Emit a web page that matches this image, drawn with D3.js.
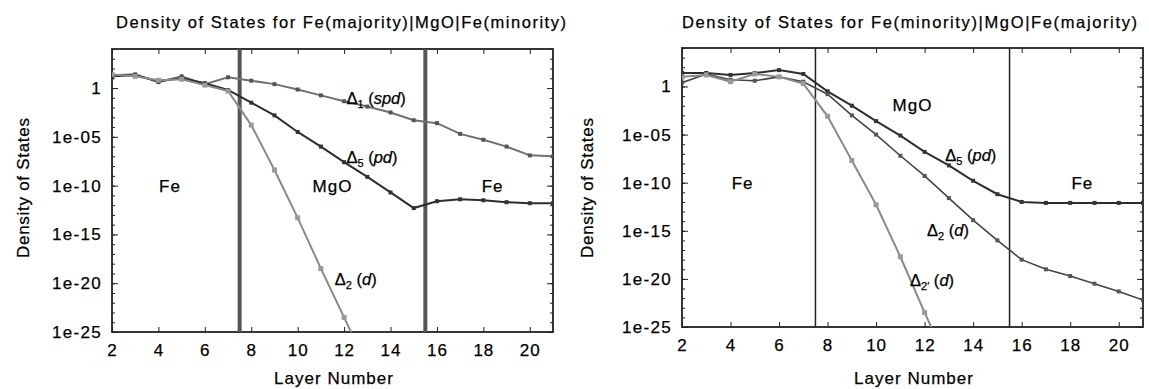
<!DOCTYPE html>
<html>
<head>
<meta charset="utf-8">
<script src="https://cdn.jsdelivr.net/npm/d3@7"></script>
<style>
  body { margin: 0; background: #fff; }
  svg text { font-family: "Liberation Sans", Arial, sans-serif; fill: #000; stroke: #000; stroke-width: 0.25px; }
</style>
</head>
<body>
<svg id="chart" width="1149" height="389"></svg>
<script>
// layer numbers
const layers = [2, 3, 4, 5, 6, 7, 8, 9, 10, 11, 12, 13, 14, 15, 16, 17, 18, 19, 20, 21];
const layersShort = [2, 3, 4, 5, 6, 7, 8, 9, 10, 11, 12, 13];
const xTicks = [2, 4, 6, 8, 10, 12, 14, 16, 18, 20];
const yTicks = [1, 1e-5, 1e-10, 1e-15, 1e-20, 1e-25];
const yTickLabels = ["1", "1e-05", "1e-10", "1e-15", "1e-20", "1e-25"];
const interfaces = [7.5, 15.5];

// log10 of density of states
const leftDelta1 = [1.3, 1.4, 0.6, 1.2, 0.4, 1.1, 0.75, 0.4, -0.15, -0.75, -1.35, -1.9, -2.5, -3.3, -3.6, -4.7, -5.3, -6.0, -6.9, -7.0];
const leftDelta5 = [1.2, 1.3, 0.7, 1.0, 0.5, -0.2, -1.5, -2.8, -4.5, -6.0, -7.6, -9.1, -10.7, -12.3, -11.6, -11.4, -11.5, -11.7, -11.8, -11.8];
const leftDelta2 = [1.4, 1.2, 0.8, 0.9, 0.3, -0.3, -3.8, -8.4, -13.3, -18.5, -23.5, -28.5];

const rightDelta5 = [1.4, 1.4, 1.2, 1.4, 1.7, 1.3, -0.5, -2.0, -3.6, -5.1, -6.8, -8.2, -9.8, -11.2, -12.0, -12.1, -12.1, -12.1, -12.1, -12.1];
const rightDelta2 = [0.4, 1.3, 0.7, 0.6, 1.0, 0.5, -0.8, -3.0, -5.0, -7.2, -9.3, -11.6, -13.9, -16.0, -18.0, -19.0, -19.7, -20.5, -21.3, -22.2];
const rightDelta2p = [1.0, 1.2, 0.5, 1.3, 1.0, 0.3, -3.1, -7.7, -12.3, -17.7, -23.5, -29.0];

const svg = d3.select("#chart");

const drawPanel = (cfg) => {
    const x = d3.scaleLinear().domain([2, 21]).range([cfg.x0, cfg.x1]);
    const y = d3.scaleLog().domain([1e-25, 1e4]).range([cfg.y1, cfg.y0]);
    const g = svg.append("g");

    g.append("clipPath").attr("id", cfg.id + "clip")
        .append("rect")
        .attr("x", cfg.x0).attr("y", cfg.y0)
        .attr("width", cfg.x1 - cfg.x0).attr("height", cfg.y1 - cfg.y0);

    // title
    g.append("text")
        .attr("x", cfg.titleX).attr("y", 28)
        .attr("font-size", 16.5)
        .attr("textLength", cfg.titleW).attr("lengthAdjust", "spacing")
        .text(cfg.title);

    // minor ticks every decade, both sides
    const decades = d3.range(-25, 5).map(e => Math.pow(10, e));
    g.append("g").attr("transform", `translate(${cfg.x0},0)`)
        .call(d3.axisLeft(y).tickValues(decades).tickSize(-3).tickFormat(""))
        .call(a => a.select(".domain").remove());
    g.append("g").attr("transform", `translate(${cfg.x1},0)`)
        .call(d3.axisRight(y).tickValues(decades).tickSize(-3).tickFormat(""))
        .call(a => a.select(".domain").remove());
    g.append("g").attr("transform", `translate(${cfg.x1},0)`)
        .call(d3.axisRight(y).tickValues(yTicks).tickSize(-6).tickFormat(""))
        .call(a => a.select(".domain").remove());

    // y axis with labels
    const yAx = g.append("g").attr("transform", `translate(${cfg.x0},0)`)
        .call(d3.axisLeft(y).tickValues(yTicks).tickSize(-6).tickPadding(10)
            .tickFormat((d, i) => yTickLabels[i]));
    yAx.select(".domain").remove();
    yAx.selectAll("text").attr("font-size", 17).attr("letter-spacing", 1.3).attr("fill", "#000");

    // x axis
    const xAx = g.append("g").attr("transform", `translate(0,${cfg.y1})`)
        .call(d3.axisBottom(x).tickValues(xTicks).tickSize(-5).tickPadding(12));
    xAx.select(".domain").remove();
    xAx.selectAll("text").attr("font-size", 17).attr("letter-spacing", 1).attr("fill", "#000");
    g.append("g").attr("transform", `translate(0,${cfg.y0})`)
        .call(d3.axisTop(x).tickValues(xTicks).tickSize(-5).tickFormat(""))
        .call(a => a.select(".domain").remove());

    g.selectAll(".tick line").attr("stroke", "#222");

    // frame
    g.append("rect")
        .attr("x", cfg.x0).attr("y", cfg.y0)
        .attr("width", cfg.x1 - cfg.x0).attr("height", cfg.y1 - cfg.y0)
        .attr("fill", "none").attr("stroke", "#222").attr("stroke-width", 1.8);

    // interfaces
    g.selectAll(".iface").data(interfaces).join("line")
        .attr("x1", d => x(d)).attr("x2", d => x(d))
        .attr("y1", cfg.y0).attr("y2", cfg.y1)
        .attr("stroke", cfg.ifaceColor).attr("stroke-width", cfg.ifaceWidth);

    // curves
    const line = d3.line().x(d => x(d[0])).y(d => y(d[1]));
    const plot = g.append("g").attr("clip-path", `url(#${cfg.id}clip)`);
    cfg.series.forEach(s => {
        const pts = s.xs.map((v, i) => [v, Math.pow(10, s.exps[i])]);
        plot.append("path").datum(pts)
            .attr("fill", "none").attr("stroke", s.color).attr("stroke-width", s.width)
            .attr("d", line);
        plot.selectAll(null).data(pts).join("rect")
            .attr("x", d => x(d[0]) - s.mark / 2).attr("y", d => y(d[1]) - s.mark / 2)
            .attr("width", s.mark).attr("height", s.mark)
            .attr("fill", s.markColor);
    });

    // region labels
    cfg.regions.forEach(r => {
        g.append("text")
            .attr("x", x(r.at)).attr("y", y(r.v))
            .attr("dy", "0.35em").attr("text-anchor", "middle")
            .attr("font-size", 17).attr("letter-spacing", 1)
            .text(r.name);
    });

    // curve labels
    cfg.labels.forEach(l => {
        const t = g.append("text")
            .attr("x", x(l.at)).attr("y", y(l.v))
            .attr("dy", "0.35em").attr("font-size", 16.5);
        t.append("tspan").text("\u0394");
        t.append("tspan").attr("font-size", 11).attr("dy", 4).text(l.sub);
        t.append("tspan").attr("dy", -4).text(" (");
        t.append("tspan").attr("font-style", "italic").text(l.orb);
        t.append("tspan").text(")");
    });

    // axis titles
    g.append("text")
        .attr("x", (cfg.x0 + cfg.x1) / 2 + 1).attr("y", 384)
        .attr("text-anchor", "middle").attr("font-size", 17)
        .attr("textLength", 119).attr("lengthAdjust", "spacing")
        .text("Layer Number");
    g.append("text")
        .attr("transform", `translate(${cfg.yLabX},188) rotate(-90)`)
        .attr("text-anchor", "middle").attr("font-size", 17)
        .attr("textLength", 140).attr("lengthAdjust", "spacing")
        .text("Density of States");
};

drawPanel({
    id: "left", x0: 112, x1: 553, y0: 49, y1: 332,
    title: "Density of States for Fe(majority)|MgO|Fe(minority)", titleX: 116, titleW: 450,
    yLabX: 29, ifaceColor: "#555", ifaceWidth: 4,
    series: [
        { xs: layers, exps: leftDelta1, color: "#707070", width: 2, mark: 4, markColor: "#555" },
        { xs: layers, exps: leftDelta5, color: "#2e2e2e", width: 2, mark: 4, markColor: "#333" },
        { xs: layersShort, exps: leftDelta2, color: "#8a8a8a", width: 2, mark: 5, markColor: "#999" }
    ],
    regions: [
        { name: "Fe", at: 4.5, v: 1e-10 },
        { name: "MgO", at: 11.5, v: 1e-10 },
        { name: "Fe", at: 18.4, v: 1e-10 }
    ],
    labels: [
        { sub: "1", orb: "spd", at: 12.1, v: 1e-1 },
        { sub: "5", orb: "pd", at: 12.1, v: Math.pow(10, -7.1) },
        { sub: "2", orb: "d", at: 11.6, v: Math.pow(10, -19.6) }
    ]
});

drawPanel({
    id: "right", x0: 682, x1: 1143, y0: 48, y1: 327,
    title: "Density of States for Fe(minority)|MgO|Fe(majority)", titleX: 682, titleW: 455,
    yLabX: 593, ifaceColor: "#222", ifaceWidth: 1.5,
    series: [
        { xs: layers, exps: rightDelta5, color: "#2e2e2e", width: 2, mark: 4, markColor: "#333" },
        { xs: layers, exps: rightDelta2, color: "#444", width: 1.6, mark: 4, markColor: "#555" },
        { xs: layersShort, exps: rightDelta2p, color: "#8a8a8a", width: 2, mark: 5, markColor: "#999" }
    ],
    regions: [
        { name: "Fe", at: 4.5, v: 1e-10 },
        { name: "MgO", at: 11.5, v: Math.pow(10, -1.9) },
        { name: "Fe", at: 18.5, v: 1e-10 }
    ],
    labels: [
        { sub: "5", orb: "pd", at: 12.85, v: Math.pow(10, -7.1) },
        { sub: "2", orb: "d", at: 12.1, v: Math.pow(10, -14.9) },
        { sub: "2\u2032", orb: "d", at: 11.4, v: Math.pow(10, -20.1) }
    ]
});
</script>
</body>
</html>
